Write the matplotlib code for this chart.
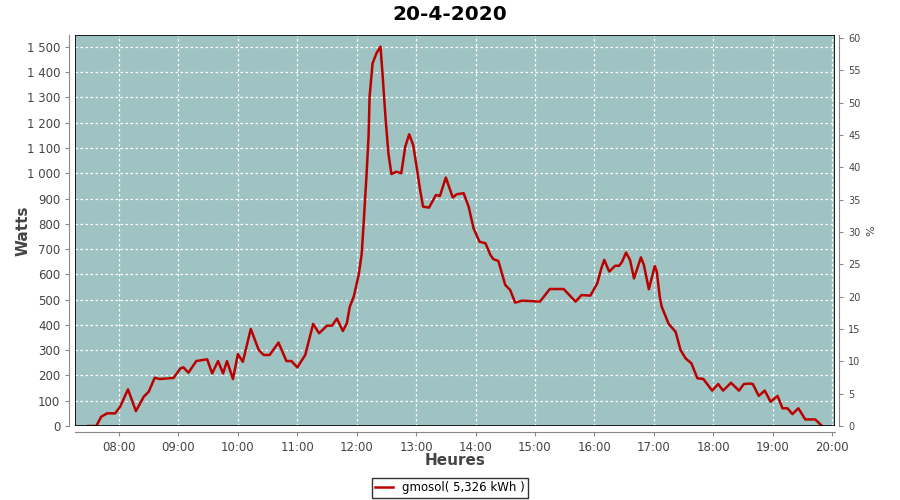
import matplotlib
matplotlib.use("Agg")
import matplotlib.pyplot as plt
import matplotlib.dates as mdates
from matplotlib.ticker import FuncFormatter, MultipleLocator
import pandas as pd

title = "20-4-2020"
series_name = "gmosol( 5,326 kWh )"
times = ["07:29", "07:37", "07:42", "07:48", "07:56", "08:01", "08:09", "08:17", "08:25", "08:30",
         "08:36", "08:41", "08:55", "09:02", "09:05", "09:10", "09:18", "09:29", "09:34", "09:40",
         "09:45", "09:49", "09:55", "10:00", "10:05", "10:13", "10:21", "10:26", "10:32", "10:41",
         "10:49", "10:54", "11:00", "11:08", "11:16", "11:22", "11:30", "11:35", "11:40", "11:46",
         "11:50", "11:53", "11:57", "12:02", "12:05", "12:07", "12:10", "12:12", "12:13", "12:16",
         "12:20", "12:24", "12:26", "12:29", "12:32", "12:35", "12:40", "12:45", "12:49", "12:53",
         "12:57", "13:01", "13:04", "13:07", "13:13", "13:20", "13:24", "13:30", "13:37", "13:41",
         "13:48", "13:53", "13:58", "14:04", "14:10", "14:15", "14:18", "14:23", "14:30", "14:35",
         "14:40", "14:47", "15:05", "15:15", "15:29", "15:41", "15:47", "15:56", "16:03", "16:07",
         "16:10", "16:15", "16:21", "16:25", "16:28", "16:32", "16:36", "16:40", "16:47", "16:50",
         "16:55", "17:01", "17:03", "17:06", "17:08", "17:15", "17:22", "17:27", "17:32", "17:38",
         "17:44", "17:50", "17:59", "18:05", "18:10", "18:18", "18:26", "18:31", "18:37", "18:40",
         "18:46", "18:52", "18:58", "19:05", "19:10", "19:15", "19:20", "19:26", "19:33", "19:43",
         "19:50"]
watts = [0, 0, 37, 50, 50, 76, 145, 59, 116, 136,
         191, 186, 190, 228, 232, 211, 257, 264, 208, 257,
         208, 257, 186, 284, 254, 384, 301, 281, 281, 330,
         257, 257, 232, 281, 404, 367, 397, 397, 425, 376,
         406, 472, 512, 598, 680, 802, 1000, 1150, 1303, 1435,
         1475, 1501, 1396, 1224, 1079, 997, 1006, 1000, 1105, 1154,
         1112, 1013, 934, 868, 864, 914, 910, 983, 904, 917,
         921, 868, 782, 729, 723, 677, 660, 653, 558, 538,
         488, 496, 492, 542, 542, 492, 518, 516, 565, 624,
         657, 611, 634, 634, 650, 686, 657, 584, 667, 637,
         541, 633, 611, 512, 472, 404, 373, 301, 268, 248,
         189, 186, 140, 166, 140, 171, 140, 166, 168, 166,
         119, 140, 96, 119, 70, 70, 47, 70, 26, 26,
         0]

t = pd.to_datetime(["2020-04-20 " + s for s in times])

fig = plt.figure(figsize=(9, 5), dpi=100)
ax = fig.add_axes([75/900, 74/500, 760/900, 391/500])
ax.set_facecolor("#9ec3c2")

ax.plot(t, watts, color="#bb0000", lw=1.8, label=series_name)

ax.set_xlim(pd.Timestamp("2020-04-20 07:15:30"), pd.Timestamp("2020-04-20 20:03:00"))
ax.set_ylim(0, 1547)
ax.yaxis.set_major_locator(MultipleLocator(100))
ax.yaxis.set_major_formatter(FuncFormatter(lambda v, p: f"{int(v):,}".replace(",", " ")))
ax.xaxis.set_major_locator(mdates.HourLocator())
ax.xaxis.set_major_formatter(mdates.DateFormatter("%H:%M"))
ax.grid(True, color="white", linestyle=(0, (2, 2)), lw=0.9)
ax.set_axisbelow(True)

for s in ["left", "bottom"]:
    ax.spines[s].set_position(("outward", 4))
    ax.spines[s].set_color("#888888")
ax.spines["top"].set_visible(False)
ax.spines["right"].set_visible(False)
border = plt.Rectangle((0, 0), 1, 1, transform=ax.transAxes, fill=False,
                       edgecolor="black", lw=1.2, zorder=5)
ax.add_patch(border)
ax.tick_params(axis="both", labelsize=8.5, colors="#888888", labelcolor="#444444", length=3)

ax2 = ax.twinx()
ax2.set_ylim(0, 60.46)
ax2.yaxis.set_major_locator(MultipleLocator(5))
for s in ["left", "top", "bottom"]:
    ax2.spines[s].set_visible(False)
ax2.spines["right"].set_position(("outward", 3))
ax2.spines["right"].set_color("#888888")
ax2.tick_params(axis="y", labelsize=7, colors="#888888", labelcolor="#444444", length=3)
ax2.set_ylabel("%", fontsize=8, color="#444444", rotation=90, labelpad=4)

ax.set_ylabel("Watts", fontsize=11, color="#444444", fontweight="bold")
ax.yaxis.set_label_coords(-0.059, 0.5)
ax.set_xlabel("Heures", fontsize=11, color="#444444", fontweight="bold")
ax.xaxis.set_label_coords(0.5, -0.069)
fig.text(0.5, 0.97, title, ha="center", va="center", fontsize=14.5, fontweight="bold")

leg = fig.legend(loc="center", bbox_to_anchor=(0.5, 0.024), fontsize=8.5, frameon=True,
                 fancybox=False, edgecolor="black", handlelength=1.5, borderpad=0.3)
leg.get_frame().set_linewidth(1.0)

fig.savefig("out.png", dpi=100)
